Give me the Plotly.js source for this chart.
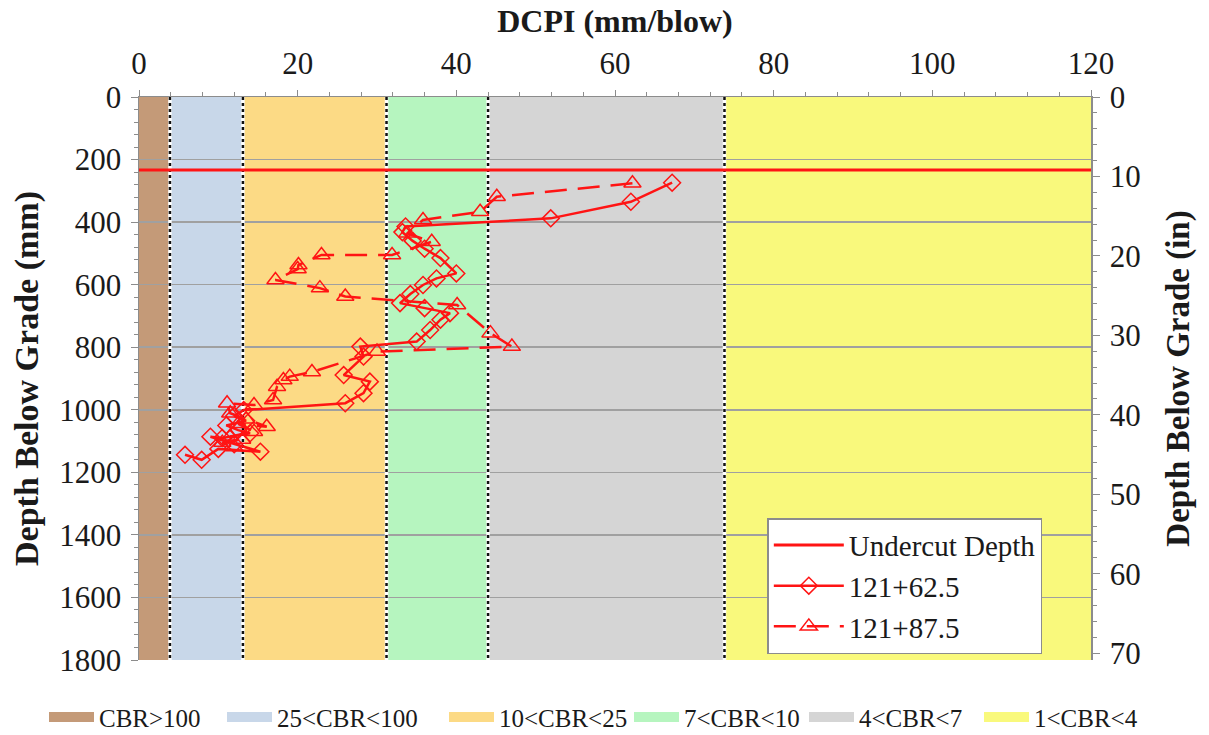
<!DOCTYPE html>
<html>
<head>
<meta charset="utf-8">
<script src="https://cdn.plot.ly/plotly-3.0.1.min.js"></script>
<style>html,body{margin:0;padding:0;background:#fff;}#chart{width:1209px;height:735px;}</style>
</head>
<body>
<div id="chart"></div>
<script>
// CBR zones (DCPI thresholds, mm/blow)
const bandNames = ['CBR>100', '25<CBR<100', '10<CBR<25', '7<CBR<10', '4<CBR<7', '1<CBR<4'];
const bandEdges = [0, 3.9, 13.1, 31.2, 44.0, 73.8, 120];
const bandColors = ['#C49A78', '#C8D7E9', '#FCDA85', '#B6F5BF', '#D5D5D5', '#F9F97C'];

// Undercut depth (mm)
const undercutName = 'Undercut Depth';
const undercutDepth = 233;
const dcpiRange = [0, 120];
const depthRange = [0, 1800];

// Station 121+62.5
const s1Name = '121+62.5';
const s1Dcpi = [67.2, 62.0, 51.9, 33.6, 33.2, 34.5, 36.0, 38.0, 40.0, 37.5, 35.8, 34.2, 32.9, 36.0, 39.2, 38.0, 36.7, 35.0, 27.9, 28.3, 25.8, 29.1, 28.3, 26.0, 13.2, 12.0, 13.5, 11.0, 12.5, 14.0, 10.5, 9.0, 12.0, 15.3, 10.0, 7.9, 5.8];
const s1Depth = [274, 335, 388, 414, 432, 460, 485, 515, 564, 580, 601, 630, 659, 675, 691, 712, 745, 782, 798, 830, 889, 910, 947, 979, 1001, 1020, 1035, 1050, 1065, 1075, 1090, 1086, 1110, 1134, 1125, 1160, 1144];

// Station 121+87.5
const s2Name = '121+87.5';
const s2Dcpi = [62.2, 45.1, 43.0, 35.8, 33.8, 36.9, 31.9, 23.0, 20.1, 20.0, 17.2, 22.8, 26.0, 40.1, 44.3, 47.0, 30.0, 21.8, 19.0, 18.2, 17.4, 16.9, 14.5, 11.1, 11.5, 13.5, 16.1, 12.5, 14.5, 11.5, 13.0, 10.5, 12.0];
const s2Depth = [276, 319, 367, 393, 436, 463, 505, 505, 537, 550, 585, 611, 638, 665, 755, 798, 814, 879, 894, 905, 926, 969, 985, 979, 1011, 1030, 1054, 1045, 1070, 1085, 1095, 1105, 1119];

const MM_PER_IN = 25.4;
const serif = 'Liberation Serif';
const red = '#FF1414';
const ink = '#1a1a1a';
const axisGray = '#8c8c8c';

const shapes = [];
for (let i = 0; i < bandNames.length; i++) {
  shapes.push({
    type: 'rect', xref: 'x', yref: 'y', layer: 'below',
    x0: bandEdges[i], x1: bandEdges[i + 1], y0: depthRange[0], y1: depthRange[1],
    fillcolor: bandColors[i], line: {width: 0}
  });
}
for (let i = 1; i < bandEdges.length - 1; i++) {
  shapes.push({type: 'line', xref: 'x', yref: 'y', layer: 'between',
    x0: bandEdges[i], x1: bandEdges[i], y0: depthRange[0], y1: depthRange[1],
    line: {color: '#ffffff', width: 3.5}});
  shapes.push({type: 'line', xref: 'x', yref: 'y', layer: 'between',
    x0: bandEdges[i], x1: bandEdges[i], y0: depthRange[0], y1: depthRange[1],
    line: {color: '#111111', width: 2.5, dash: '3px,3px'}});
}

// bottom key: one small legend per zone, placed along the bottom
const keyLeft = [44, 222, 444, 629, 804, 979];
const traces = [];
const layout = {
  width: 1209, height: 735,
  margin: {l: 139, r: 118, t: 97, b: 75, autoexpand: false},
  paper_bgcolor: '#ffffff', plot_bgcolor: '#ffffff',
  font: {family: serif, size: 28, color: ink},
  showlegend: true,
  xaxis: {
    side: 'top', range: dcpiRange, dtick: 20, tick0: 0,
    showgrid: false, zeroline: false, showline: true, linecolor: axisGray, linewidth: 1.5,
    ticks: 'outside', ticklen: 6, tickcolor: axisGray,
    minor: {dtick: 4, ticks: 'outside', ticklen: 4, tickcolor: axisGray},
    tickfont: {family: serif, size: 31, color: ink}, ticklabelstandoff: 3,
    title: {text: 'DCPI (mm/blow)', font: {family: serif, size: 32, weight: 'bold', color: ink}, standoff: 4}
  },
  yaxis: {
    range: [depthRange[1], depthRange[0]], dtick: 200, tick0: 0,
    showgrid: true, gridcolor: '#a0a0a0', gridwidth: 1.5,
    zeroline: false, showline: true, linecolor: axisGray, linewidth: 1.5,
    ticks: 'outside', ticklen: 7, tickcolor: axisGray,
    minor: {dtick: 40, ticks: 'outside', ticklen: 4, tickcolor: axisGray, showgrid: false},
    tickfont: {family: serif, size: 31, color: ink}, ticklabelstandoff: 3,
    title: {text: 'Depth Below Grade (mm)', font: {family: serif, size: 34, weight: 'bold', color: ink}, standoff: 10}
  },
  yaxis2: {
    overlaying: 'y', side: 'right',
    range: [depthRange[1] / MM_PER_IN, depthRange[0] / MM_PER_IN], dtick: 10, tick0: 0,
    showgrid: false, zeroline: false, showline: true, linecolor: axisGray, linewidth: 1.5,
    ticks: 'outside', ticklen: 7, tickcolor: axisGray,
    minor: {dtick: 2, ticks: 'outside', ticklen: 4, tickcolor: axisGray},
    tickfont: {family: serif, size: 31, color: ink}, ticklabelstandoff: 4,
    title: {text: 'Depth Below Grade (in)', font: {family: serif, size: 33, weight: 'bold', color: ink}, standoff: 26}
  },
  legend: {
    x: 0.66, y: 0.252, xanchor: 'left', yanchor: 'top',
    bgcolor: '#ffffff', bordercolor: axisGray, borderwidth: 1.5,
    font: {family: serif, size: 29, color: ink},
    itemwidth: 70, tracegroupgap: 0
  },
  shapes: shapes
};
for (let i = 0; i < bandNames.length; i++) {
  const lg = 'legend' + (i + 2);
  traces.push({x: [null], y: [null], type: 'scatter', mode: 'lines', name: bandNames[i],
    line: {color: bandColors[i], width: 14}, legend: lg, hoverinfo: 'skip'});
  layout[lg] = {
    orientation: 'h', xref: 'container', yref: 'container',
    x: keyLeft[i] / 1209, y: 0.024, xanchor: 'left', yanchor: 'middle',
    bgcolor: 'rgba(0,0,0,0)', borderwidth: 0,
    font: {family: serif, size: 25, color: ink},
    itemwidth: 45
  };
}
traces.push(
  {x: dcpiRange, y: [undercutDepth, undercutDepth], type: 'scatter', mode: 'lines',
   name: undercutName, line: {color: red, width: 3}, legend: 'legend'},
  {x: s1Dcpi, y: s1Depth, type: 'scatter', mode: 'lines+markers', name: s1Name,
   line: {color: red, width: 2.5},
   marker: {symbol: 'diamond-open', size: 13, color: red, line: {width: 1.5, color: red}}, legend: 'legend'},
  {x: s2Dcpi, y: s2Depth, type: 'scatter', mode: 'lines+markers', name: s2Name,
   line: {color: red, width: 2.5, dash: '22px,11px'},
   marker: {symbol: 'triangle-up-open', size: 15, color: red, line: {width: 1.5, color: red}}, legend: 'legend'},
  {x: [null], y: [null], yaxis: 'y2', type: 'scatter', mode: 'lines', showlegend: false, hoverinfo: 'skip'}
);

Plotly.newPlot('chart', traces, layout, {displayModeBar: false, staticPlot: true});
</script>
</body>
</html>
